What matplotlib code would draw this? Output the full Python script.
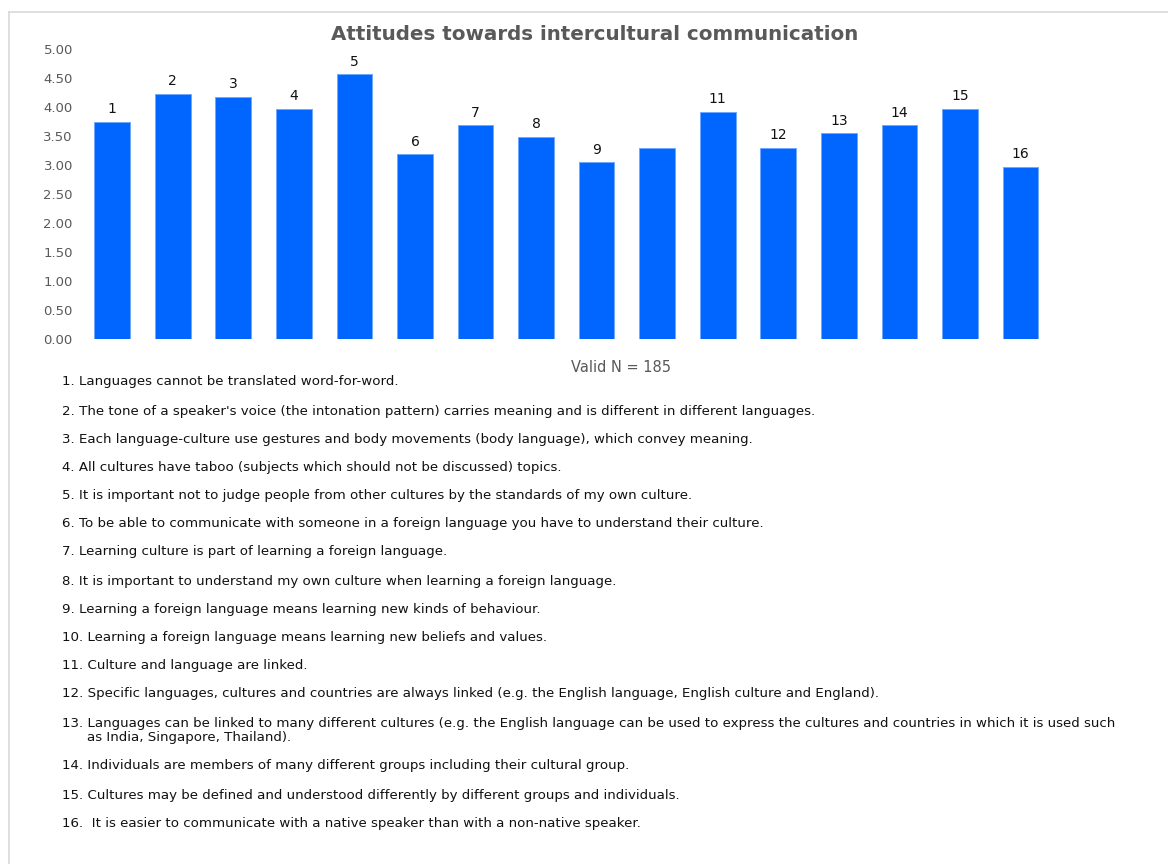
import matplotlib
matplotlib.use("Agg")
import matplotlib.pyplot as plt
from matplotlib.lines import Line2D

# Mean agreement per statement (1-5 scale)
item_labels = ["1", "2", "3", "4", "5", "6", "7", "8", "9", "", "11", "12", "13", "14", "15", "16"]
mean_scores = [3.75, 4.23, 4.18, 3.97, 4.57, 3.19, 3.69, 3.49, 3.05, 3.29, 3.92, 3.30, 3.55, 3.69, 3.97, 2.97]
y_ticks = [0.0, 0.5, 1.0, 1.5, 2.0, 2.5, 3.0, 3.5, 4.0, 4.5, 5.0]

statements = [
    "1. Languages cannot be translated word-for-word.",
    "2. The tone of a speaker's voice (the intonation pattern) carries meaning and is different in different languages.",
    "3. Each language-culture use gestures and body movements (body language), which convey meaning.",
    "4. All cultures have taboo (subjects which should not be discussed) topics.",
    "5. It is important not to judge people from other cultures by the standards of my own culture.",
    "6. To be able to communicate with someone in a foreign language you have to understand their culture.",
    "7. Learning culture is part of learning a foreign language.",
    "8. It is important to understand my own culture when learning a foreign language.",
    "9. Learning a foreign language means learning new kinds of behaviour.",
    "10. Learning a foreign language means learning new beliefs and values.",
    "11. Culture and language are linked.",
    "12. Specific languages, cultures and countries are always linked (e.g. the English language, English culture and England).",
    "13. Languages can be linked to many different cultures (e.g. the English language can be used to express the cultures and countries in which it is used such",
    "14. Individuals are members of many different groups including their cultural group.",
    "15. Cultures may be defined and understood differently by different groups and individuals.",
    "16.  It is easier to communicate with a native speaker than with a non-native speaker.",
]
statement13_cont = "as India, Singapore, Thailand)."

W, H = 1168, 864
fig = plt.figure(figsize=(W / 100, H / 100), dpi=100)
fig.patch.set_facecolor("white")

# Outer frame (top and left edges)
frame_col = "#d9d9d9"
fig.add_artist(Line2D([9 / W, 1.0], [1 - 12 / H, 1 - 12 / H], color=frame_col, lw=1.2))
fig.add_artist(Line2D([9 / W, 9 / W], [0.0, 1 - 12 / H], color=frame_col, lw=1.2))

left, right = 81.9 / W, 1050.8 / W
bottom, top = 1 - 339.3 / H, 1 - 49.3 / H
ax = fig.add_axes([left, bottom, right - left, top - bottom])

x = list(range(len(mean_scores)))
bars = ax.bar(x, mean_scores, width=0.59, color="#0066ff", edgecolor="#6fa8ff", linewidth=0.7)
for b, lab in zip(bars, item_labels):
    if lab:
        ax.annotate(lab, (b.get_x() + b.get_width() / 2, b.get_height()),
                    xytext=(0, 4), textcoords="offset points",
                    ha="center", va="bottom", fontsize=10, color="#111111",
                    family="DejaVu Sans")

ax.set_xlim(-0.5, len(mean_scores) - 0.5)
ax.set_ylim(0, 5)
ax.set_yticks(y_ticks)
ax.set_yticklabels([f"{v:.2f}" for v in y_ticks])
ax.set_xticks([])
ax.tick_params(axis="y", length=0, pad=6.5, labelsize=9.5, labelcolor="#595959")
for s in ax.spines.values():
    s.set_visible(False)

fig.text(595 / W, 1 - 34 / H, "Attitudes towards intercultural communication",
         ha="center", va="center", fontsize=14.3, fontweight="bold", color="#595959",
         family="DejaVu Sans")
fig.text(621 / W, 1 - 368 / H, "Valid N = 185", ha="center", va="center",
         fontsize=10.5, color="#595959", family="DejaVu Sans")

# Statement key below the chart
line_y = [382, 411, 439, 467, 496, 524, 552, 581, 609, 638, 666, 694, 723, 766, 795, 823]
for yy, txt in zip(line_y, statements):
    fig.text(62 / W, 1 - yy / H, txt, ha="left", va="center", fontsize=9.6,
             color="#111111", family="DejaVu Sans")
fig.text(87 / W, 1 - 738 / H, statement13_cont, ha="left", va="center", fontsize=9.6,
         color="#111111", family="DejaVu Sans")

fig.savefig("out.png", dpi=100, facecolor="white")
